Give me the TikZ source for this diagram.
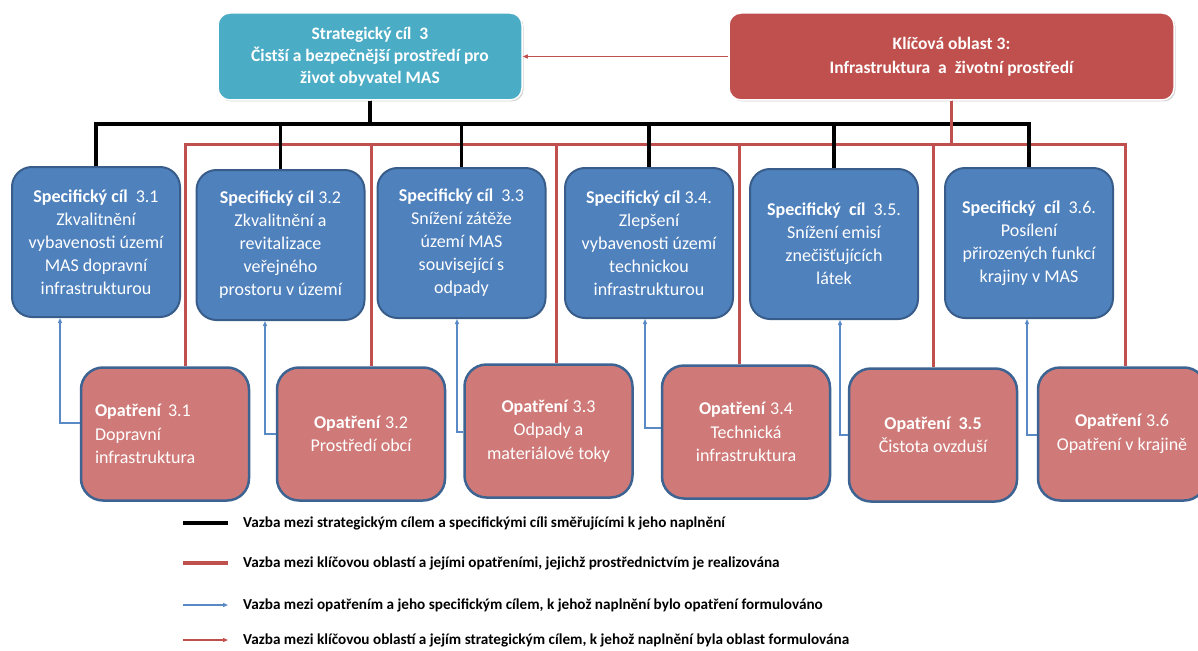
\documentclass[tikz,border=0pt]{standalone}
\usepackage{fontspec}
\setmainfont{Carlito}
\usetikzlibrary{arrows.meta,calc,shadows}

\definecolor{cilblue}{HTML}{4BACC6}
\definecolor{oblastred}{HTML}{C0504D}
\definecolor{specfill}{HTML}{4F81BD}
\definecolor{specdraw}{HTML}{385D8A}
\definecolor{opatfill}{HTML}{CF7A78}
\definecolor{opatdraw}{HTML}{3C6391}
\definecolor{arrowblue}{HTML}{5A8AC6}

\tikzset{
	topbox/.style={rounded corners=12pt, draw=white, line width=1.5pt, text=white, align=center, inner sep=0pt, minimum height=87pt, font=\bfseries\fontsize{17.5}{22}\selectfont, drop shadow={shadow xshift=1.5pt, shadow yshift=-1.5pt, opacity=0.35}},
	specbox/.style={rounded corners=20pt, fill=specfill, draw=specdraw, line width=2pt, text=white, align=center, inner sep=0pt, minimum width=168pt, minimum height=150pt, font=\fontsize{18}{23}\selectfont},
	opatbox/.style={rounded corners=22pt, fill=opatfill, draw=opatdraw, line width=2.5pt, text=white, align=center, inner sep=0pt, minimum width=168pt, minimum height=133pt, font=\fontsize{18}{23.5}\selectfont},
	leftbox/.style={text width=140pt, align=left},
	blackline/.style={line width=3.3pt, black},
	redline/.style={line width=3pt, oblastred},
	bluearrow/.style={line width=1.2pt, arrowblue, -{Triangle[length=5pt,width=4pt]}},
	redarrow/.style={line width=1.2pt, oblastred, -{Triangle[length=5pt,width=4pt]}},
	legend/.style={anchor=west, inner sep=0pt, font=\bfseries\fontsize{15.2}{18}\selectfont}
}

\begin{document}
\begin{tikzpicture}

\def\px{1pt}

\begin{scope}[x=\px,y=-\px]
\useasboundingbox (0,0) rectangle (1198,650);

\node[topbox, fill=cilblue, minimum width=304pt] (sc) at (370,56.5) {Strategický cíl\ \ 3\\Čistší a bezpečnější prostředí pro\\život obyvatel MAS};
\node[topbox, fill=oblastred, minimum width=445pt, font=\bfseries\fontsize{17.5}{24}\selectfont] (ko) at (951.5,56.5) {Klíčová oblast 3:\\Infrastruktura\ \ a\ \ životní prostředí};
\draw[redarrow] (ko) -- (sc);

\coordinate (bus) at (0,124);
\coordinate (redbus) at (0,144);

% specificke cile
\node[specbox] (s1) at (96,242) {\textbf{Specifický cíl}\ \ 3.1\\Zkvalitnění\\vybavenosti území\\MAS dopravní\\infrastrukturou};
\node[specbox] (s2) at (280.5,245) {\textbf{Specifický cíl} 3.2\\Zkvalitnění a\\revitalizace\\veřejného\\prostoru v území};
\node[specbox] (s3) at (461.5,243) {\textbf{Specifický cíl}\ \ 3.3\\Snížení zátěže\\území MAS\\související s\\odpady};
\node[specbox] (s4) at (649,243) {\textbf{Specifický cíl} 3.4.\\Zlepšení\\vybavenosti území\\technickou\\infrastrukturou};
\node[specbox] (s5) at (834,244) {\textbf{Specifický\ \ cíl}\ \ 3.5.\\Snížení emisí\\znečišťujících\\látek};
\node[specbox] (s6) at (1029,243) {\textbf{Specifický\ \ cíl}\ \ 3.6.\\Posílení\\přirozených funkcí\\krajiny v MAS};

% opatreni
\node[opatbox, leftbox] (o1) at (165,434) {\textbf{Opatření} 3.1\\Dopravní\\infrastruktura};
\node[opatbox] (o2) at (361,434) {\textbf{Opatření} 3.2\\Prostředí obcí};
\node[opatbox] (o3) at (548.5,431) {\textbf{Opatření} 3.3\\Odpady a\\materiálové toky};
\node[opatbox] (o4) at (746,432) {\textbf{Opatření} 3.4\\Technická\\infrastruktura};
\node[opatbox] (o5) at (933,435) {\textbf{Opatření\ \ 3.5}\\Čistota ovzduší};
\node[opatbox] (o6) at (1122,434) {\textbf{Opatření} 3.6\\Opatření v krajině};

% vazby
\foreach \n/\dx in {1/20,2/10,3/7.5,4/-7,5/0,6/3}{
	\draw[redline] (ko.south) -- (ko.south |- redbus) -| ($(o\n.north)+(\dx,0)$);
}
\foreach \n in {1,...,6}{
	\draw[blackline] (sc.south) -- (sc.south |- bus) -| (s\n.north);
}
\draw[redline] (ko.south) -- (ko.south |- redbus);

\foreach \n/\ly/\sx in {1/423/-36,2/434/-15.5,3/432/-4.5,4/428/-4,5/435/6,6/435/-2}{
	\draw[bluearrow] (o\n.west |- 0,\ly) -| ($(s\n.south)+(\sx,0)$);
}

% legenda
\coordinate (la1) at (183,523);
\coordinate (lb1) at (228,523);
\coordinate (la2) at (183,563);
\coordinate (lb2) at (228,563);
\coordinate (la3) at (183,605);
\coordinate (lb3) at (228,605);
\coordinate (la4) at (183,640);
\coordinate (lb4) at (228,640);
\draw[blackline] (la1) -- (lb1);
\draw[redline, line width=3.3pt] (la2) -- (lb2);
\draw[bluearrow] (la3) -- (lb3);
\draw[redarrow] (la4) -- (lb4);
\node[legend] (leg1) at (243,523) {Vazba mezi strategickým cílem a specifickými cíli směřujícími k jeho naplnění};
\node[legend] (leg2) at (243,563) {Vazba mezi klíčovou oblastí a jejími opatřeními, jejichž prostřednictvím je realizována};
\node[legend] (leg3) at (243,605) {Vazba mezi opatřením a jeho specifickým cílem, k jehož naplnění bylo opatření formulováno};
\node[legend] (leg4) at (243,640) {Vazba mezi klíčovou oblastí a jejím strategickým cílem, k jehož naplnění byla oblast formulována};
\end{scope}

\end{tikzpicture}
\end{document}
